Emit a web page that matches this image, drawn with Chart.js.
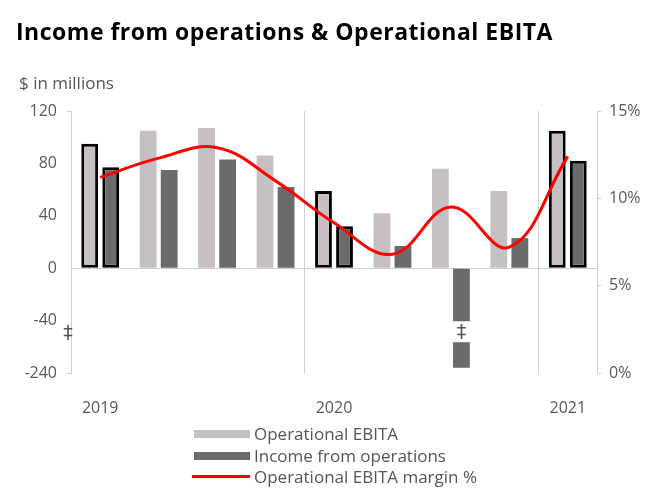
<!DOCTYPE html>
<html>
<head>
<meta charset="utf-8">
<script src="https://cdn.jsdelivr.net/npm/chart.js@4.4.0/dist/chart.umd.min.js"></script>
<style>
  html, body { margin:0; padding:0; background:#fff; }
  #wrap { position:relative; width:669px; height:492px; overflow:hidden; font-family:'Open Sans', sans-serif; }
  #title { position:absolute; left:16px; top:15px; font-size:23px; letter-spacing:0.5px; font-weight:700; color:#000; white-space:nowrap; }
  #unit { position:absolute; left:19px; top:71px; font-size:17px; color:#555; white-space:nowrap; }
  #legend { position:absolute; left:192px; top:423px; font-size:17px; color:#555; }
  .li { position:relative; height:21.5px; line-height:21.5px; padding-left:62px; white-space:nowrap; }
  .sw { position:absolute; left:2px; top:7px; width:56px; height:8px; }
  .ln { position:absolute; left:0; top:9px; width:58px; height:3px; }
  canvas { position:absolute; left:0; top:0; }
</style>
</head>
<body>
<div id="wrap">
  <canvas id="c" width="669" height="492"></canvas>
  <div id="title">Income from operations &amp; Operational EBITA</div>
  <div id="unit">$ in millions</div>
  <div id="legend"></div>
</div>
<script>
// ---- data ----
const categories = ['Q1 2019','Q2 2019','Q3 2019','Q4 2019','Q1 2020','Q2 2020','Q3 2020','Q4 2020','Q1 2021'];
const xTickLabels = ['2019','','','','2020','','','','2021'];
const operationalEbita = [95, 105, 107, 86, 59, 42, 76, 59, 105];
// Q3 2020 income is drawn on the broken part of the axis (plotted in axis units)
const incomeFromOperations = [77, 75, 83, 62, 32, 17, -76, 23, 82];
const ebitaMarginPct = [11.2, 12.3, 12.9, 11.0, 8.6, 6.8, 9.5, 7.2, 12.4];
const highlighted = [true, false, false, false, true, false, false, false, true];
const leftTicks = [120, 80, 40, 0, -40, -80];
const leftTickLabels = ['120', '80', '40', '0', '-40', '-240'];
const rightTicks = [0, 5, 10, 15];
const seriesNames = ['Operational EBITA', 'Income from operations', 'Operational EBITA margin %'];

const EBITA_COL = '#c6c0c4';
const INC_COL = '#6b6b6b';
const LINE_COL = '#ff0000';
const AXIS_COL = '#cfcfcf';
const TXT_COL = '#595959';

Chart.defaults.font.family = "'Open Sans', sans-serif";
Chart.defaults.color = TXT_COL;

const breakPlugin = {
  id: 'breaks',
  afterDatasetsDraw(chart) {
    const ctx = chart.ctx;
    const y = chart.scales.y;
    const meta = chart.getDatasetMeta(2);
    ctx.save();
    ctx.font = "19px 'DejaVu Sans'";
    ctx.textAlign = 'center';
    ctx.textBaseline = 'middle';
    incomeFromOperations.forEach((v, i) => {
      if (v < -40) {
        const bar = meta.data[i];
        const top = y.getPixelForValue(-40.5);
        const bot = y.getPixelForValue(-56.5);
        ctx.fillStyle = '#fff';
        ctx.fillRect(bar.x - bar.width / 2 - 1, top, bar.width + 2, bot - top);
        ctx.fillStyle = '#555';
        ctx.fillText('\u2021', bar.x, (top + bot) / 2 + 1);
      }
    });
    ctx.fillStyle = '#555';
    ctx.fillText('\u2021', chart.chartArea.left - 3, y.getPixelForValue(-50));
    ctx.restore();
  }
};

const chart = new Chart(document.getElementById('c'), {
  type: 'bar',
  data: {
    labels: categories,
    datasets: [
      {
        type: 'line', label: seriesNames[2], data: ebitaMarginPct, yAxisID: 'y2',
        borderColor: LINE_COL, borderWidth: 3, tension: 0.4, pointRadius: 0, order: 0, fill: false
      },
      {
        label: seriesNames[0], data: operationalEbita, yAxisID: 'y',
        backgroundColor: EBITA_COL, borderColor: '#000',
        borderWidth: highlighted.map(h => h ? 3 : 0), borderSkipped: false,
        categoryPercentage: 0.72, barPercentage: 0.8, order: 1
      },
      {
        label: seriesNames[1], data: incomeFromOperations, yAxisID: 'y',
        backgroundColor: INC_COL, borderColor: '#000',
        borderWidth: highlighted.map(h => h ? 3 : 0), borderSkipped: false,
        categoryPercentage: 0.72, barPercentage: 0.8, order: 1
      }
    ]
  },
  options: {
    responsive: false,
    devicePixelRatio: 1,
    animation: false,
    layout: { padding: { top: 111, left: 0, right: 0, bottom: 0 } },
    plugins: { legend: { display: false }, tooltip: { enabled: false } },
    scales: {
      x: {
        offset: true,
        afterFit(s) { s.height = 492 - 111 - 262; },
        border: { display: false },
        grid: {
          offset: true, drawTicks: false,
          color: c => (c.index === 4 || c.index === 8) ? AXIS_COL : 'rgba(0,0,0,0)',
          lineWidth: 1
        },
        ticks: {
          autoSkip: false, maxRotation: 0, padding: 26, color: TXT_COL,
          font: { size: 16 },
          callback: (v, i) => xTickLabels[i]
        }
      },
      y: {
        position: 'left', min: -80, max: 120,
        afterFit(s) { s.width = 71; },
        afterBuildTicks(s) { s.ticks = leftTicks.map(v => ({ value: v })); },
        border: { display: true, color: AXIS_COL, width: 1 },
        grid: {
          drawOnChartArea: true, tickLength: 4,
          color: c => (c.tick && c.tick.value === 0) ? AXIS_COL : 'rgba(0,0,0,0)',
          tickColor: c => (c.tick && (c.tick.value === 120 || c.tick.value === -80)) ? AXIS_COL : 'rgba(0,0,0,0)'
        },
        ticks: {
          padding: 10, color: TXT_COL, font: { size: 16 },
          callback: (v) => leftTickLabels[leftTicks.indexOf(v)]
        }
      },
      y2: {
        position: 'right', min: 0, max: 15,
        afterFit(s) { s.width = 72; },
        afterBuildTicks(s) { s.ticks = rightTicks.map(v => ({ value: v })); },
        border: { display: true, color: AXIS_COL, width: 1 },
        grid: { drawOnChartArea: false, tickLength: 4, color: AXIS_COL },
        ticks: {
          padding: 8, color: TXT_COL, font: { size: 16 },
          callback: v => v + '%'
        }
      }
    }
  },
  plugins: [breakPlugin]
});

const legendEl = document.getElementById('legend');
[1, 2, 0].forEach(di => {
  const ds = chart.data.datasets[di];
  const row = document.createElement('div');
  row.className = 'li';
  const sw = document.createElement('span');
  if (ds.type === 'line') { sw.className = 'ln'; sw.style.background = ds.borderColor; }
  else { sw.className = 'sw'; sw.style.background = ds.backgroundColor; }
  row.appendChild(sw);
  row.appendChild(document.createTextNode(ds.label));
  legendEl.appendChild(row);
});
</script>
</body>
</html>
